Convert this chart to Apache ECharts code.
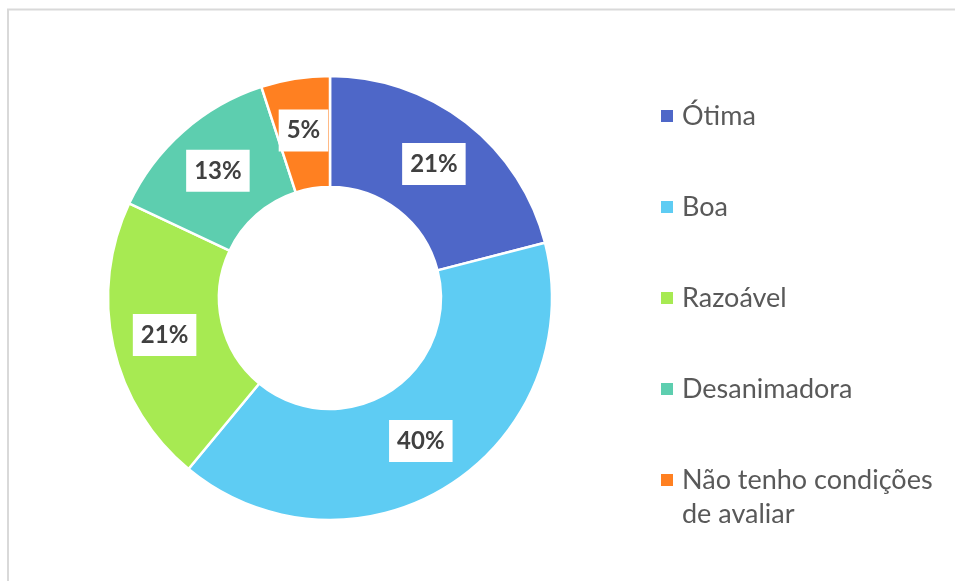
<!DOCTYPE html>
<html>
<head>
<meta charset="utf-8">
<script src="https://cdn.jsdelivr.net/npm/echarts@6/dist/echarts.min.js"></script>
<style>
  html, body { margin: 0; padding: 0; background: #fff; }
  #chart { width: 955px; height: 581px; }
</style>
</head>
<body>
<div id="chart"></div>
<script>
const categories = ["Ótima", "Boa", "Razoável", "Desanimadora", "Não tenho condições de avaliar"];
const values = [21, 40, 21, 13, 5];
const colors = ["#4e67c8", "#5eccf3", "#a7ea52", "#5dceaf", "#ff8021"];

const chart = echarts.init(document.getElementById("chart"));

const legendText = {
  fontFamily: "Lato",
  fontSize: 27,
  color: "#595959",
  lineHeight: 34,
  padding: [0, 0, 0, 3],
};

const baseLegend = {
  orient: "vertical",
  left: 659,
  padding: 0,
  itemWidth: 14,
  itemHeight: 14,
  itemGap: 57,
  icon: "rect",
  textStyle: legendText,
};

const option = {
  animation: false,
  color: colors,
  graphic: [
    {
      type: "rect",
      shape: { x: 8, y: 9.5, width: 2000, height: 2000 },
      style: { fill: null, stroke: "#d9d9d9", lineWidth: 2 },
      silent: true,
    },
  ],
  legend: [
    Object.assign({}, baseLegend, {
      top: 99,
      data: categories.slice(0, 4),
    }),
    // long label in its own legend; the blank first line keeps
    // "Não tenho condições" level with the marker
    Object.assign({}, baseLegend, {
      top: 429,
      data: categories.slice(4),
      formatter: () => "\nNão tenho condições\nde avaliar",
    }),
  ],
  series: [
    {
      type: "pie",
      center: [330, 298],
      radius: [111, 222],
      startAngle: 90,
      clockwise: true,
      avoidLabelOverlap: false,
      itemStyle: { borderColor: "#fff", borderWidth: 2.5 },
      label: {
        show: true,
        position: "inside",
        formatter: "{c}%",
        fontFamily: "Lato",
        fontWeight: "bold",
        fontSize: 24,
        color: "#404040",
        backgroundColor: "#fff",
        padding: [8, 8, 6, 8],
        lineHeight: 28,
      },
      labelLine: { show: false },
      data: categories.map((name, i) => ({ name: name, value: values[i] })),
    },
  ],
};

chart.setOption(option);
</script>
</body>
</html>
